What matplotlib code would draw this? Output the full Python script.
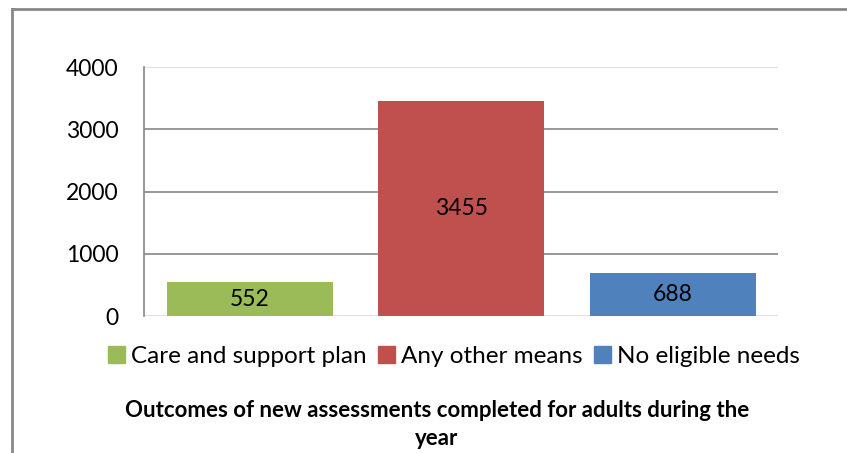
import matplotlib
matplotlib.use('Agg')
import matplotlib.pyplot as plt
from matplotlib.lines import Line2D
from matplotlib.patches import Patch

categories = ['Care and support plan', 'Any other means', 'No eligible needs']
values = [552, 3455, 688]
colors = ['#9BBB59', '#C0504D', '#4F81BD']
yticks = [0, 1000, 2000, 3000, 4000]
title = 'Outcomes of new assessments completed for adults during the\nyear'

plt.rcParams['font.family'] = ['Lato', 'DejaVu Sans']

fig = plt.figure(figsize=(8.47, 4.53), dpi=100)
ax = fig.add_axes([0.170, 0.302, 0.749, 0.550])

x = range(len(categories))
bars = ax.bar(x, values, width=0.785, color=colors, zorder=3)
for b, v in zip(bars, values):
    ax.text(b.get_x() + b.get_width() / 2, v / 2, str(v), ha='center', va='center',
            fontsize=16.5, color='black', zorder=4)

ax.set_xlim(-0.5, 2.5)
ax.set_ylim(0, 4000)
ax.set_yticks(yticks)
ax.set_yticklabels([str(t) for t in yticks], fontsize=16.5)
ax.set_xticks([])
ax.tick_params(axis='y', length=0, pad=18.5)
for t in yticks[1:-1]:
    ax.axhline(t, color='#868686', lw=1.2, zorder=1)
ax.axhline(4000, color='#d9d9d9', lw=1.2, zorder=1)
ax.axhline(0, color='#d9d9d9', lw=1.2, zorder=1)
for s in ['top', 'right', 'bottom']:
    ax.spines[s].set_visible(False)
ax.spines['left'].set_color('#868686')
ax.spines['left'].set_linewidth(1.2)

handles = [Patch(color=c) for c in colors]
fig.legend(handles, categories, loc='center', bbox_to_anchor=(0.536, 0.212), ncol=3,
           frameon=False, fontsize=17.5, handlelength=0.7, handleheight=0.7,
           handletextpad=0.25, columnspacing=0.45, borderpad=0)

fig.text(0.516, 0.063, title, ha='center', va='center', fontsize=16,
         fontweight='bold', linespacing=1.38)

# frame of the chart (left and top edges only visible)
fig.add_artist(Line2D([12 / 847, 12 / 847], [0, 1 - 9 / 453], color='#898989', lw=2))
fig.add_artist(Line2D([12 / 847, 1], [1 - 9 / 453, 1 - 9 / 453], color='#898989', lw=2))

fig.savefig('out.png', dpi=100)
